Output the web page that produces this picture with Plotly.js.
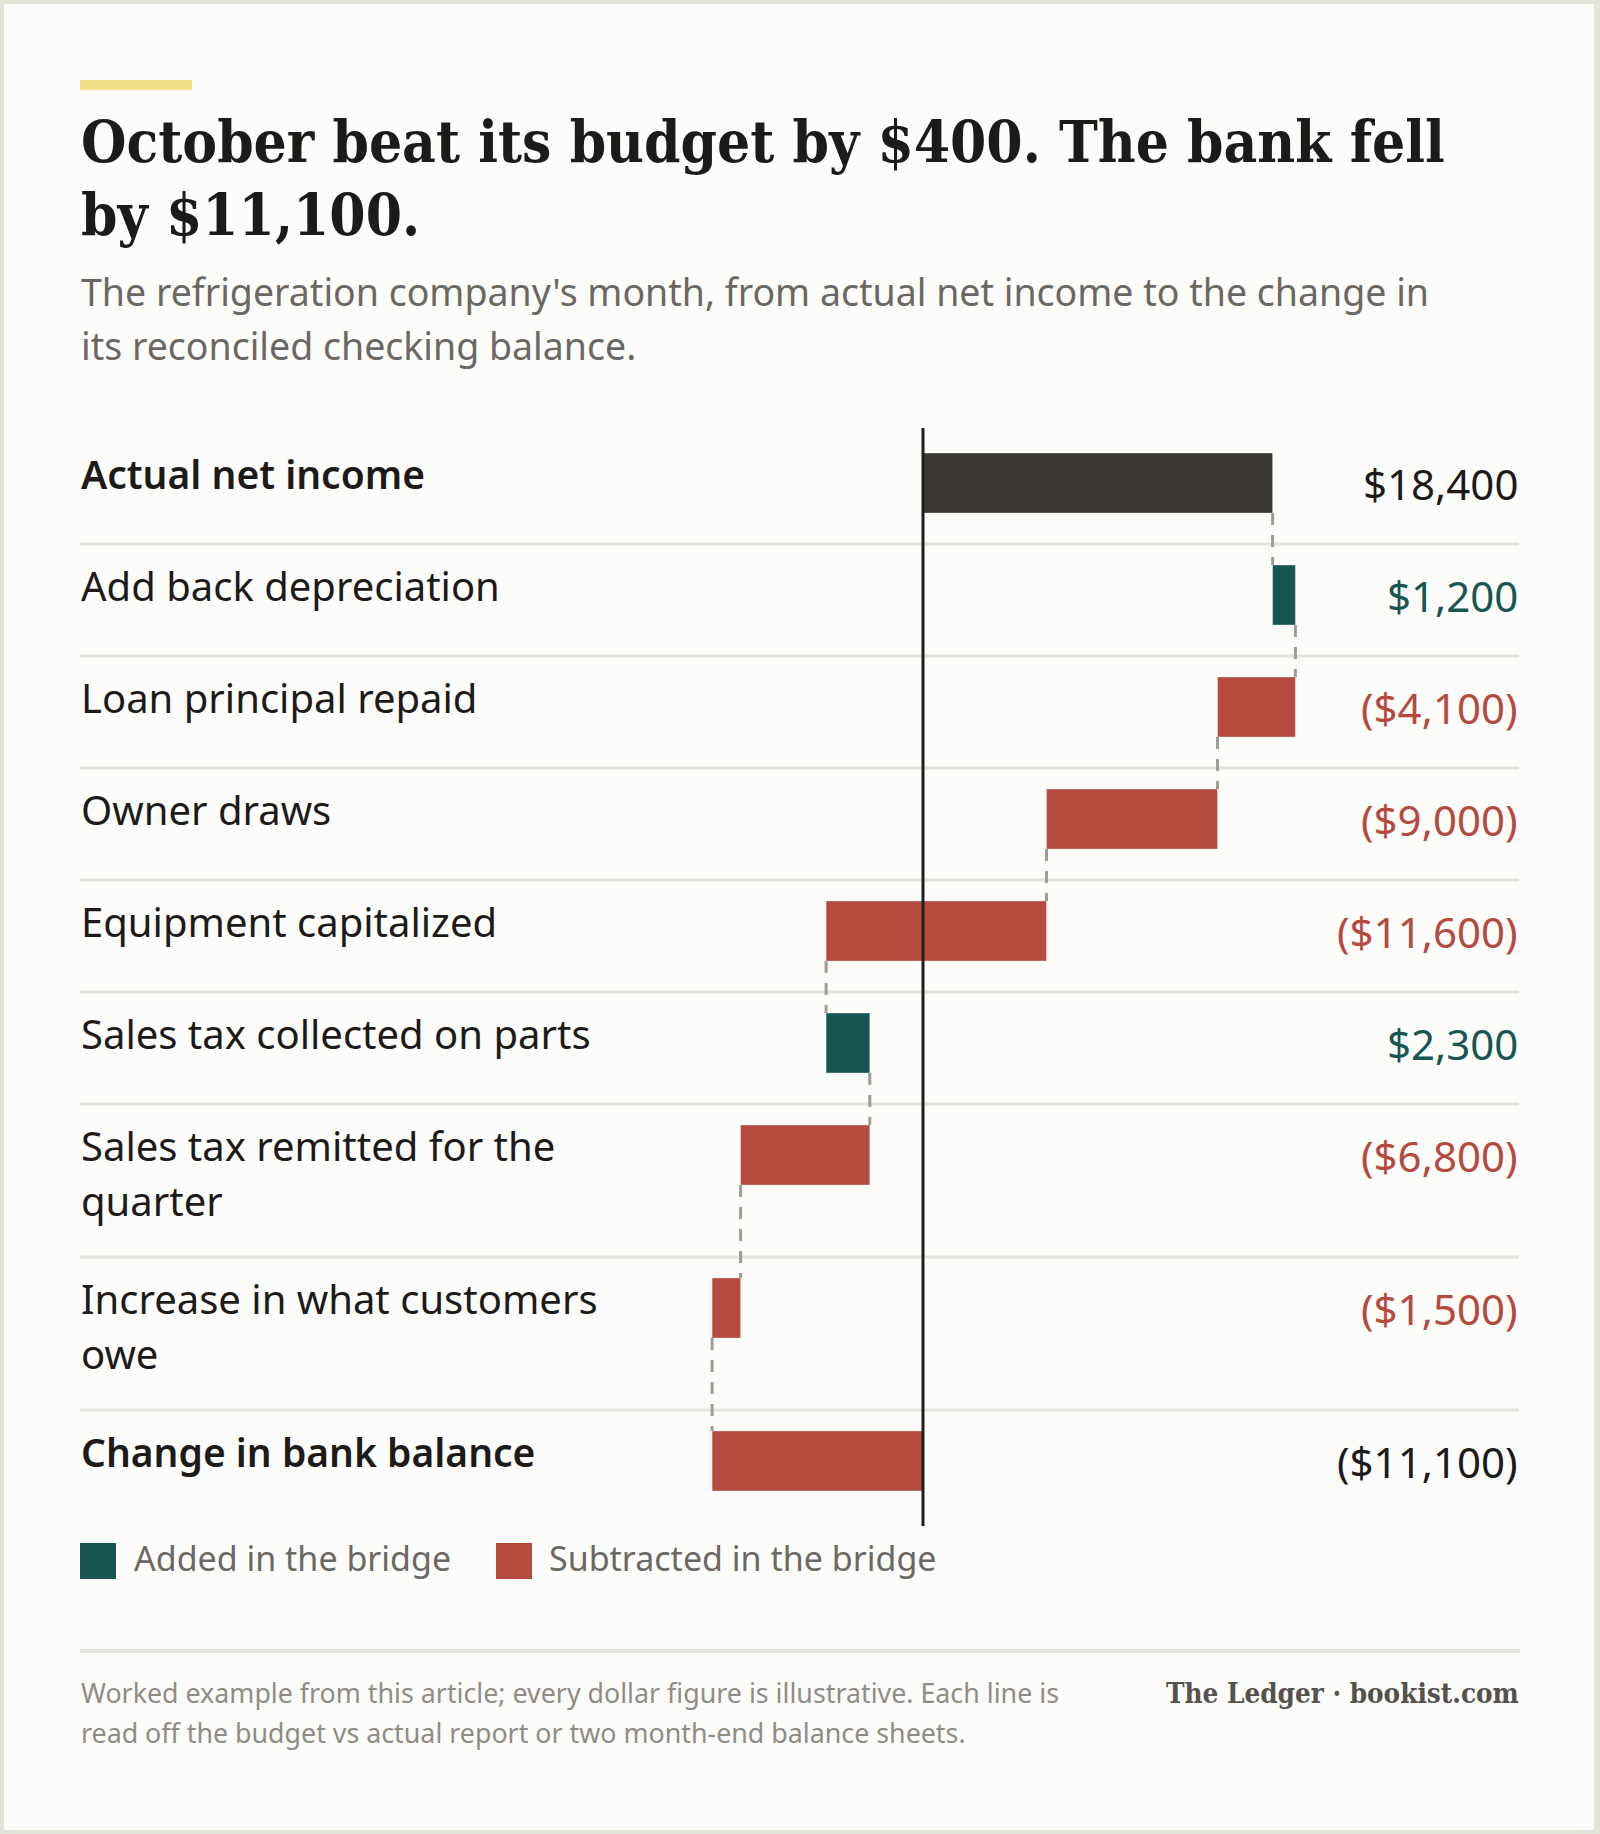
<!DOCTYPE html>
<html>
<head>
<meta charset="utf-8">
<script src="https://cdn.plot.ly/plotly-3.0.1.min.js"></script>
<style>
  html, body { margin: 0; padding: 0; background: #e4e3da; overflow: hidden; }
  #chart { width: 1600px; height: 1834px; }
</style>
</head>
<body>
<div id="chart"></div>
<script>
// ---- Data -------------------------------------------------------------
const rowLabels = [
  "Actual net income",
  "Add back depreciation",
  "Loan principal repaid",
  "Owner draws",
  "Equipment capitalized",
  "Sales tax collected on parts",
  "Sales tax remitted for the<br>quarter",
  "Increase in what customers<br>owe",
  "Change in bank balance"
];
const amounts = [18400, 1200, -4100, -9000, -11600, 2300, -6800, -1500, -11100];
const rowKinds = ["total", "step", "step", "step", "step", "step", "step", "step", "total"];

const legendLabels = ["Added in the bridge", "Subtracted in the bridge"];
const titleLines = ["October beat its budget by $400. The bank fell", "by $11,100."];
const subtitleLines = [
  "The refrigeration company's month, from actual net income to the change in",
  "its reconciled checking balance."
];
const noteLines = [
  "Worked example from this article; every dollar figure is illustrative. Each line is",
  "read off the budget vs actual report or two month-end balance sheets."
];
const creditText = "The Ledger · bookist.com";

// ---- Page geometry and styles -----------------------------------------
const W = 1600, H = 1834;
const LEFT = 80, RIGHT = 1519;
const ZERO_PX = 923;          // where $0 sits across the page
const PX_PER_DOLLAR = 0.019;  // horizontal scale
const FIRST_ROW_TOP = 432;
const ROW_H_ONE = 112, ROW_H_TWO = 153;
const BAR_OFFSET = 21, BAR_THICK = 60;
const LINE_GAP = 55;

const C = {
  ink: "#1c1b19", muted: "#6b6864", faint: "#8f8c87",
  rule: "#e4e3dc", dash: "#9e9c96",
  total: "#3b3732", add: "#185652", sub: "#b54a3e",
  accent: "#f1e188", card: "#fcfcfa", frame: "#e4e3da"
};
const SANS = '"Noto Sans", Lato, sans-serif';
const SERIF = '"DejaVu Serif Condensed", "DejaVu Serif", serif';

// ---- Derived waterfall geometry ---------------------------------------
const rowTops = [];
let cursorY = FIRST_ROW_TOP;
rowLabels.forEach(lbl => {
  rowTops.push(cursorY);
  cursorY += lbl.includes("<br>") ? ROW_H_TWO : ROW_H_ONE;
});
const chartBottom = cursorY;
const barCenters = rowTops.map(t => t + BAR_OFFSET + BAR_THICK / 2);

const bases = [], ends = [];
let running = 0;
amounts.forEach((a, i) => {
  if (rowKinds[i] === "total") {
    bases.push(0); ends.push(a); running = a;
  } else {
    bases.push(running); running += a; ends.push(running);
  }
});

const barColors = amounts.map((a, i) => {
  if (rowKinds[i] === "total" && i === 0) return C.total;
  return a >= 0 ? C.add : C.sub;
});

function money(v) {
  const s = "$" + Math.abs(v).toLocaleString("en-US");
  return v < 0 ? "(" + s + ")" : s;
}
const valueColors = amounts.map((a, i) => rowKinds[i] === "total" ? C.ink : (a >= 0 ? C.add : C.sub));

// connectors: from the end of one bar down to the top of the next
const connX = [], connY = [];
for (let i = 0; i < amounts.length - 1; i++) {
  connX.push(ends[i], ends[i], null);
  connY.push(barCenters[i] + BAR_THICK / 2, barCenters[i + 1] - BAR_THICK / 2, null);
}

// ---- Text helper (places a single line by its baseline) ---------------
function line(str, xPx, baselinePx, size, color, family, extra) {
  const k = family === SERIF ? 0.346 : 0.388;
  const a = {
    text: str, xref: "paper", yref: "paper",
    x: xPx / W, y: 1 - (baselinePx - k * size) / H,
    xanchor: "left", yanchor: "middle", showarrow: false, align: "left",
    borderpad: 0, font: { family: family, size: size, color: color }
  };
  if (extra) {
    if (extra.weight) a.font.weight = extra.weight;
    if (extra.xanchor) a.xanchor = extra.xanchor;
  }
  return a;
}

const annotations = [];
titleLines.forEach((t, i) => annotations.push(line(t, LEFT, 162 + i * 73, 58, C.ink, SERIF, { weight: 700 })));
subtitleLines.forEach((t, i) => annotations.push(line(t, LEFT, 306 + i * 54, 37.5, C.muted, SANS)));

rowLabels.forEach((lbl, i) => {
  const bold = rowKinds[i] === "total";
  lbl.split("<br>").forEach((part, j) => {
    annotations.push(line(part, LEFT, rowTops[i] + 57 + j * LINE_GAP, bold ? 39 : 40, C.ink, SANS, bold ? { weight: 600 } : null));
  });
  annotations.push(line(money(amounts[i]), RIGHT, barCenters[i] + 16.5, 42, valueColors[i], SANS, { xanchor: "right" }));
});

annotations.push(line(legendLabels[0], 133, 1571, 34, C.muted, SANS));
annotations.push(line(legendLabels[1], 548, 1571, 34, C.muted, SANS));

noteLines.forEach((t, i) => annotations.push(line(t, LEFT, 1703 + i * 40, 26.8, C.faint, SANS)));
annotations.push(line(creditText, 1520, 1703, 27.6, "#55524e", SERIF, { weight: 700, xanchor: "right" }));

// ---- Shapes: card, accent, row rules, legend swatches, footer rule -----
const px = v => v / W, py = v => 1 - v / H;
const shapes = [
  { type: "rect", xref: "paper", yref: "paper", x0: px(4), x1: px(1594), y0: py(4), y1: py(1830),
    fillcolor: C.card, line: { width: 0 }, layer: "below" },
  { type: "rect", xref: "paper", yref: "paper", x0: px(80), x1: px(192), y0: py(80), y1: py(90),
    fillcolor: C.accent, line: { width: 0 }, layer: "below" },
  { type: "rect", xref: "paper", yref: "paper", x0: px(80), x1: px(116), y0: py(1543), y1: py(1579),
    fillcolor: C.add, line: { width: 0 } },
  { type: "rect", xref: "paper", yref: "paper", x0: px(496), x1: px(532), y0: py(1543), y1: py(1579),
    fillcolor: C.sub, line: { width: 0 } },
  { type: "line", xref: "paper", yref: "paper", x0: px(80), x1: px(1520), y0: py(1651), y1: py(1651),
    line: { color: C.rule, width: 4 }, layer: "below" }
];
rowTops.slice(1).forEach(t => shapes.push({
  type: "line", xref: "paper", yref: "y", x0: px(LEFT), x1: px(RIGHT), y0: t, y1: t,
  line: { color: C.rule, width: 3 }, layer: "below"
}));

// ---- Traces -----------------------------------------------------------
const bars = {
  type: "bar", orientation: "h",
  x: amounts, base: bases, y: barCenters, width: BAR_THICK,
  marker: { color: barColors, line: { color: "rgba(252,252,250,0.35)", width: 1 } },
  hoverinfo: "skip", showlegend: false
};
const connectors = {
  type: "scatter", mode: "lines", x: connX, y: connY,
  line: { color: C.dash, width: 3, dash: "12px,10px" },
  hoverinfo: "skip", showlegend: false
};
const zeroLine = {
  type: "scatter", mode: "lines", x: [0, 0], y: [FIRST_ROW_TOP - 4, chartBottom + 4],
  line: { color: "#1f1e1c", width: 3 },
  hoverinfo: "skip", showlegend: false
};

const layout = {
  width: W, height: H,
  margin: { l: 0, r: 0, t: 0, b: 0 },
  paper_bgcolor: C.frame, plot_bgcolor: "rgba(0,0,0,0)",
  xaxis: { domain: [0, 1], range: [(0 - ZERO_PX) / PX_PER_DOLLAR, (W - ZERO_PX) / PX_PER_DOLLAR],
           visible: false, fixedrange: true },
  yaxis: { domain: [0, 1], range: [H, 0], visible: false, fixedrange: true },
  shapes: shapes,
  annotations: annotations,
  showlegend: false
};

Plotly.newPlot("chart", [bars, connectors, zeroLine], layout, { staticPlot: true, displayModeBar: false });
</script>
</body>
</html>
